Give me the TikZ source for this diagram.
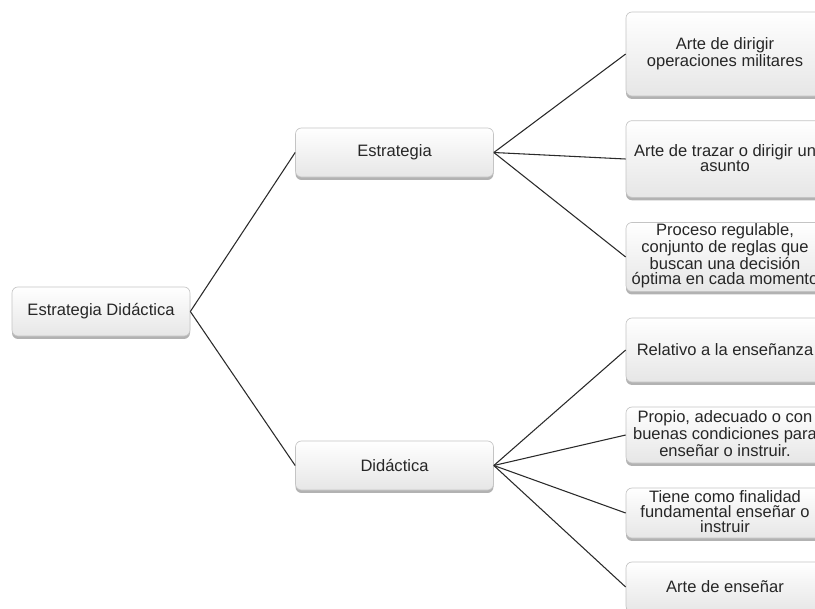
\documentclass[tikz,border=0pt]{standalone}
\usepackage{fontspec}
\setmainfont{Liberation Sans}
\usetikzlibrary{shadows}
\definecolor{boxline}{HTML}{C4C4C4}
\definecolor{boxlow}{HTML}{E6E6E6}
\definecolor{linkcol}{HTML}{2A2A2A}
\begin{document}
\begin{tikzpicture}[x=0.75pt,y=-0.75pt,
  card/.style={draw=boxline, line width=0.5pt, rounded corners=4.5pt,
    shading=axis, top color=white, bottom color=boxlow,
    drop shadow={shadow xshift=0pt, shadow yshift=-2.2pt, opacity=0.55, fill=black!55},
    inner sep=0pt, minimum width=#1},
  card/.default=148.5pt,
  txt/.style={font=\fontsize{12.4}{11.3}\selectfont, align=center, inner sep=0pt, text=black!85},
  link/.style={draw=linkcol, line width=0.8pt}]
\useasboundingbox (0,0) rectangle (815,608);
\clip (0,0) rectangle (815,608);

% root and second level
\node[card=133.5pt, minimum height=36.8pt] (root) at (101,311.5) {};
\node[txt] (roott) at (root.center) {Estrategia Didáctica};
\node[card, minimum height=36.8pt] (est) at (394.5,152.5) {};
\node[txt] (estt) at (est.center) {Estrategia};
\node[card, minimum height=36.8pt] (did) at (394.5,465.5) {};
\node[txt] (didt) at (did.center) {Didáctica};

% leaves of Estrategia
\node[card, minimum height=63pt] (e1) at (725,54) {};
\node[txt] (e1t) at (e1.center) {Arte de dirigir\\operaciones militares};
\node[card, minimum height=57.5pt] (e2) at (725,159) {};
\node[txt] (e2t) at ([yshift=0.5pt]e2.center) {Arte de trazar o dirigir un\\asunto};
\node[card, minimum height=51.8pt] (e3) at (725,257) {};
\node[txt] (e3t) at ([yshift=1pt]e3.center) {Proceso regulable,\\conjunto de reglas que\\buscan una decisión\\óptima en cada momento};

% leaves of Didáctica
\node[card, minimum height=48pt] (d1) at (725,350) {};
\node[txt] (d1t) at (d1.center) {Relativo a la enseñanza};
\node[card, minimum height=42pt] (d2) at (725,435) {};
\node[txt] (d2t) at ([yshift=1pt]d2.center) {Propio, adecuado o con\\buenas condiciones para\\enseñar o instruir.};
\node[card, minimum height=37.5pt] (d3) at (725,513) {};
\node[txt] (d3t) at ([yshift=1pt]d3.center) {Tiene como finalidad\\fundamental enseñar o\\instruir};
\node[card, minimum height=37.5pt] (d4) at (725,587) {};
\node[txt] (d4t) at (d4.center) {Arte de enseñar};

% connectors
\draw[link] (root.east) -- (est.west);
\draw[link] (root.east) -- (did.west);
\foreach \n in {e1,e2,e3} \draw[link] (est.east) -- (\n.west);
\foreach \n in {d1,d2,d3,d4} \draw[link] (did.east) -- (\n.west);
\end{tikzpicture}
\end{document}
